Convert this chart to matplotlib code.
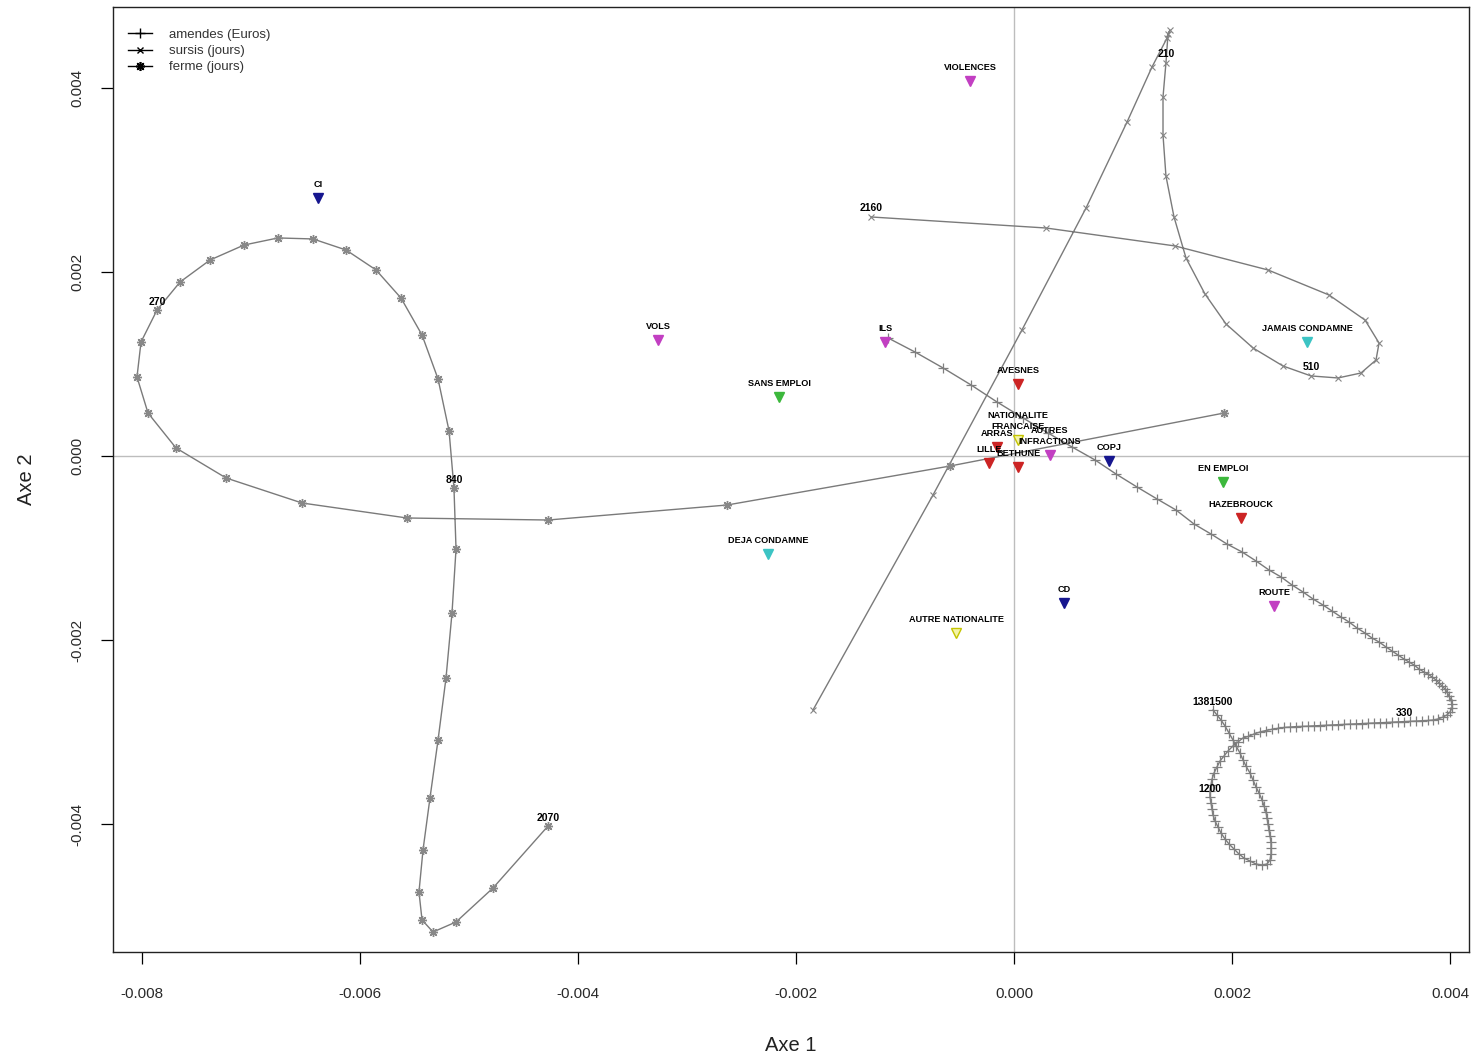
"""Plan factoriel : modalites et trajectoires des peines (amendes, sursis, ferme)."""
import matplotlib
matplotlib.use("Agg")
import matplotlib.pyplot as plt
from matplotlib.lines import Line2D
import numpy as np

plt.rcParams["font.family"] = ["Liberation Sans", "DejaVu Sans"]

# all coordinates below are in thousandths (x 1e-3)
UNIT = 1e-3

# amendes (Euros) trajectory
AMENDES_X = [
    -1.156, -0.908, -0.651, -0.394, -0.156, 0.083, 0.312, 0.532, 0.743, 0.936, 1.128, 1.312, 1.486,
    1.651, 1.807, 1.954, 2.092, 2.220, 2.339, 2.450, 2.550, 2.651, 2.743,
    2.835, 2.917, 3.000, 3.073, 3.147, 3.220, 3.284, 3.349, 3.413, 3.468,
    3.523, 3.578, 3.624, 3.670, 3.716, 3.761, 3.798, 3.835, 3.872, 3.899,
    3.927, 3.954, 3.972, 3.991, 4.009, 4.018, 4.018, 4.000, 3.972, 3.936, 3.890, 3.844,
    3.798, 3.743, 3.688, 3.633, 3.578, 3.523, 3.468, 3.413, 3.358, 3.303,
    3.248, 3.193, 3.138, 3.083, 3.028, 2.972, 2.917, 2.862, 2.807, 2.752,
    2.697, 2.642, 2.587, 2.532, 2.477, 2.422, 2.367, 2.312, 2.257, 2.202, 2.147,
    2.101, 2.055, 2.009, 1.963, 1.927, 1.890, 1.862, 1.835, 1.817, 1.807,
    1.798, 1.798, 1.807, 1.817, 1.826, 1.844, 1.872, 1.899, 1.936, 1.972,
    2.018, 2.064, 2.110, 2.165, 2.220, 2.275, 2.321, 2.349,
    2.358, 2.358, 2.358, 2.349, 2.339, 2.330, 2.321, 2.312, 2.294, 2.275,
    2.248, 2.220, 2.193, 2.165, 2.128, 2.101, 2.073, 2.037, 2.009, 1.972,
    1.936, 1.899, 1.862, 1.826,
]
AMENDES_Y = [
    1.283, 1.130, 0.957, 0.772, 0.587, 0.413, 0.250, 0.098, -0.043, -0.196, -0.337, -0.467, -0.587,
    -0.739, -0.848, -0.957, -1.043, -1.141, -1.239, -1.315, -1.402, -1.478, -1.554,
    -1.620, -1.685, -1.750, -1.804, -1.870, -1.924, -1.978, -2.022, -2.076, -2.120,
    -2.163, -2.207, -2.239, -2.272, -2.315, -2.348, -2.370, -2.402, -2.435, -2.467,
    -2.500, -2.533, -2.565, -2.609, -2.652, -2.696, -2.739, -2.783, -2.815, -2.837, -2.859, -2.870,
    -2.875, -2.878, -2.882, -2.884, -2.887, -2.890, -2.893, -2.897, -2.900, -2.902,
    -2.905, -2.909, -2.912, -2.915, -2.918, -2.921, -2.924, -2.927, -2.930, -2.934,
    -2.937, -2.939, -2.942, -2.946, -2.951, -2.960, -2.971, -2.984, -3.000, -3.022, -3.049,
    -3.065, -3.109, -3.152, -3.207, -3.261, -3.315, -3.380, -3.446, -3.511, -3.576,
    -3.641, -3.707, -3.772, -3.837, -3.902, -3.967, -4.033, -4.098, -4.163, -4.217,
    -4.272, -4.326, -4.370, -4.402, -4.435, -4.446, -4.435, -4.391,
    -4.326, -4.261, -4.196, -4.130, -4.065, -4.000, -3.935, -3.870, -3.804, -3.739,
    -3.663, -3.598, -3.522, -3.446, -3.370, -3.304, -3.228, -3.152, -3.087, -3.011,
    -2.935, -2.870, -2.815, -2.761,
]

# sursis (jours) trajectory
SURSIS_X = [
    -1.312, 0.294, 1.477, 2.330, 2.890, 3.220, 3.349, 3.321, 3.183, 2.972,
    2.725, 2.468, 2.193, 1.945, 1.752, 1.578, 1.468, 1.394, 1.367, 1.367,
    1.394, 1.413, 1.431, 1.404, 1.266, 1.037, 0.661, 0.073, -0.743, -1.844,
]
SURSIS_Y = [
    2.598, 2.478, 2.283, 2.022, 1.750, 1.478, 1.228, 1.043, 0.902, 0.848,
    0.870, 0.978, 1.174, 1.435, 1.761, 2.152, 2.598, 3.043, 3.489, 3.902,
    4.272, 4.587, 4.630, 4.543, 4.228, 3.630, 2.696, 1.370, -0.424, -2.761,
]

# ferme (jours) trajectory
FERME_X = [
    1.927, -0.587, -2.633, -4.275, -5.569, -6.532, -7.229, -7.688, -7.945, -8.046,
    -8.009, -7.862, -7.651, -7.376, -7.064, -6.752, -6.431, -6.128, -5.853, -5.624,
    -5.431, -5.284, -5.183, -5.138, -5.119, -5.156, -5.211, -5.284, -5.358, -5.422,
    -5.459, -5.431, -5.330, -5.119, -4.780, -4.275,
]
FERME_Y = [
    0.467, -0.109, -0.533, -0.696, -0.674, -0.511, -0.239, 0.087, 0.467, 0.859,
    1.239, 1.587, 1.891, 2.130, 2.293, 2.370, 2.359, 2.239, 2.022, 1.717,
    1.315, 0.837, 0.272, -0.348, -1.011, -1.707, -2.413, -3.087, -3.717, -4.283,
    -4.739, -5.043, -5.174, -5.065, -4.696, -4.022,
]

# values printed along the trajectories
CURVE_LABELS = ["2160", "210", "510", "270", "840", "2070", "330", "1381500", "1200"]
CURVE_LABEL_X = [-1.312, 1.394, 2.725, -7.862, -5.138, -4.275, 3.578, 1.826, 1.798]
CURVE_LABEL_Y = [2.598, 4.272, 0.870, 1.587, -0.348, -4.022, -2.887, -2.761, -3.707]

# modalities (supplementary points)
MODALITES = [
    "VIOLENCES", "CI", "VOLS", "ILS", "SANS EMPLOI", "AVESNES", "JAMAIS CONDAMNE",
    "EN EMPLOI", "HAZEBROUCK", "DEJA CONDAMNE", "CD", "AUTRE NATIONALITE", "ROUTE",
    "COPJ", "AUTRES\nINFRACTIONS", "NATIONALITE\nFRANCAISE", "ARRAS", "LILLE", "BETHUNE",
]
MOD_X = [-0.404, -6.385, -3.266, -1.183, -2.156, 0.037, 2.688, 1.917, 2.083, -2.257,
         0.459, -0.532, 2.385, 0.872, 0.330, 0.037, -0.156, -0.229, 0.037]
MOD_Y = [4.076, 2.804, 1.261, 1.239, 0.641, 0.783, 1.239, -0.283, -0.674, -1.065,
         -1.598, -1.924, -1.630, -0.054, 0.011, 0.174, 0.098, -0.076, -0.120]
MOD_GROUP = ["infraction", "procedure", "infraction", "infraction", "emploi", "tribunal",
             "antecedent", "emploi", "tribunal", "antecedent", "procedure", "nationalite",
             "infraction", "procedure", "infraction", "nationalite", "tribunal", "tribunal",
             "tribunal"]

GROUP_COLORS = {
    "infraction": ("#c23fc2", "#c23fc2"),
    "procedure": ("#16168f", "#16168f"),
    "emploi": ("#3cb83c", "#3cb83c"),
    "antecedent": ("#3cc4c4", "#3cc4c4"),
    "tribunal": ("#cc2424", "#cc2424"),
    "nationalite": ("#f4f4a8", "#c4c400"),
}

CURVE_COLOR = "#7a7a7a"

fig = plt.figure(figsize=(14.81, 10.58), dpi=100)
ax = fig.add_axes([0.0763, 0.1002, 0.9156, 0.8932])

ax.axhline(0, color="#bdbdbd", lw=1.0, zorder=1)
ax.axvline(0, color="#bdbdbd", lw=1.0, zorder=1)

u = np.array
ax.plot(u(AMENDES_X) * UNIT, u(AMENDES_Y) * UNIT, color=CURVE_COLOR, lw=1.0,
        marker="+", ms=7, mew=0.9, mec="#808080", zorder=2)
ax.plot(u(SURSIS_X) * UNIT, u(SURSIS_Y) * UNIT, color=CURVE_COLOR, lw=1.0,
        marker="x", ms=5, mew=0.8, mec="#858585", zorder=2)
ax.plot(u(FERME_X) * UNIT, u(FERME_Y) * UNIT, color=CURVE_COLOR, lw=1.0,
        marker=(8, 2, 0), ms=6.5, mew=1.0, mec="#888888", zorder=2)

for lab, x, y in zip(CURVE_LABELS, CURVE_LABEL_X, CURVE_LABEL_Y):
    ax.annotate(lab, (x * UNIT, y * UNIT), xytext=(0, 2.5), textcoords="offset points",
                ha="center", va="bottom", fontsize=7.5, fontweight="bold", zorder=4)

for name, x, y, grp in zip(MODALITES, MOD_X, MOD_Y, MOD_GROUP):
    face, edge = GROUP_COLORS[grp]
    ax.plot(x * UNIT, y * UNIT, linestyle="none", marker="v", ms=7.5,
            mfc=face, mec=edge, mew=1.0, zorder=3)
    ax.annotate(name, (x * UNIT, y * UNIT), xytext=(0, 6.5), textcoords="offset points",
                ha="center", va="bottom", fontsize=6.6, fontweight="bold",
                linespacing=1.25, zorder=4)

ax.set_xlim(-0.0082661, 0.0041743)
ax.set_ylim(-0.0053913, 0.0048804)
ax.set_xticks([-0.008, -0.006, -0.004, -0.002, 0.0, 0.002, 0.004])
ax.set_xticklabels(["-0.008", "-0.006", "-0.004", "-0.002", "0.000", "0.002", "0.004"])
ax.set_yticks([-0.004, -0.002, 0.0, 0.002, 0.004])
ax.set_yticklabels(["-0.004", "-0.002", "0.000", "0.002", "0.004"])
ax.tick_params(axis="both", direction="out", length=8.5, width=0.9, labelsize=11,
               labelcolor="#2a2a2a")
ax.tick_params(axis="x", pad=17)
ax.tick_params(axis="y", pad=12)
for lbl in ax.get_yticklabels():
    lbl.set_rotation(90)
    lbl.set_va("center")
for sp in ax.spines.values():
    sp.set_linewidth(1.0)
    sp.set_color("#222222")

ax.set_xlabel("Axe 1", fontsize=14.5, labelpad=25, color="#222222")
ax.set_ylabel("Axe 2", fontsize=14.5, labelpad=25, color="#222222")

handles = [
    Line2D([], [], color="black", lw=1.0, marker="+", ms=7, mew=1.0),
    Line2D([], [], color="black", lw=1.0, marker="x", ms=5, mew=1.0),
    Line2D([], [], color="black", lw=1.0, marker=(8, 2, 0), ms=6.5, mew=1.2),
]
ax.legend(handles, ["amendes (Euros)", "sursis (jours)", "ferme (jours)"],
          loc="upper left", bbox_to_anchor=(0.011, 0.977), frameon=False,
          fontsize=9.5, handlelength=1.8, handletextpad=1.3, labelspacing=0.3,
          borderpad=0.0, borderaxespad=0.0, labelcolor="#333333")

fig.savefig("out.png", dpi=100)
